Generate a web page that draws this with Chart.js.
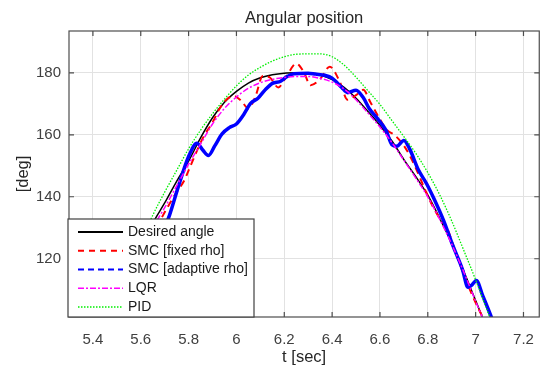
<!DOCTYPE html>
<html>
<head>
<meta charset="utf-8">
<script src="https://cdn.jsdelivr.net/npm/chart.js@4.4.1/dist/chart.umd.min.js"></script>
<style>
  html, body { margin: 0; padding: 0; background: #fff; }
</style>
</head>
<body>
<canvas id="angle" width="548" height="367"></canvas>
<script>
// time [sec] / angle [deg] samples for each controller
const desiredT = [5.45, 5.5, 5.55, 5.6, 5.65, 5.7, 5.75, 5.8, 5.85, 5.9, 5.95, 6.0, 6.05, 6.1, 6.15, 6.2, 6.25,
  6.3, 6.35, 6.4, 6.45, 6.5, 6.55, 6.6, 6.65, 6.7, 6.75, 6.8, 6.85, 6.9, 6.95, 7.0, 7.05];
const desiredDeg = [99, 107, 115.5, 124, 131.5, 138, 145, 151.5, 159, 165.5, 170.5, 174, 176.7, 178.4, 179.4, 179.9, 180,
  180, 179.3, 177.8, 175.3, 171.8, 167.5, 163, 158, 152, 146.5, 140.5, 133, 125, 116, 106.5, 97];

const smcFixedT = [5.45, 5.5, 5.55, 5.6, 5.65, 5.7, 5.75, 5.78, 5.8, 5.83, 5.86, 5.9, 5.93, 5.96, 5.99, 6.02, 6.05,
  6.08, 6.11, 6.14, 6.175, 6.21, 6.25, 6.28, 6.31, 6.35, 6.39, 6.43, 6.465, 6.5, 6.53, 6.56, 6.6, 6.63, 6.66,
  6.7, 6.73, 6.76, 6.79, 6.82, 6.85, 6.88, 6.915, 6.95, 6.99, 7.03, 7.07];
const smcFixedDeg = [95, 103, 111, 119, 127.5, 135, 141.5, 145, 148.5, 154, 159, 164, 168.5, 171.5, 172.5, 171, 168.5,
  172.5, 179, 178.5, 175.3, 179, 183, 180.5, 176, 178, 182, 177.5, 171.3, 172.8, 174.5, 170.5, 165, 161.5, 160,
  156.5, 152.5, 147.5, 142, 137, 133, 130, 122.4, 115, 107.5, 101, 94];

const smcAdaptT = [5.66, 5.7, 5.72, 5.76, 5.8, 5.835, 5.86, 5.883, 5.91, 5.94, 5.97, 6.0, 6.03, 6.06, 6.09, 6.12,
  6.15, 6.185, 6.21, 6.24, 6.3, 6.33, 6.37, 6.4, 6.44, 6.465, 6.5, 6.53, 6.555, 6.59, 6.625, 6.65, 6.67, 6.7,
  6.725, 6.76, 6.795, 6.825, 6.865, 6.905, 6.945, 6.968, 6.985, 7.003, 7.03, 7.065, 7.09];
const smcAdaptDeg = [120, 130, 134, 144, 153, 157.3, 155, 153.3, 156.5, 160.3, 162.3, 163.5, 166.5, 170.2, 171.8, 174.5,
  176.6, 177.3, 178.7, 179.7, 179.9, 179.6, 179.2, 178.3, 175.3, 173.6, 174.4, 172, 168.5, 165.2, 161.5, 156.8, 156.3, 158.2,
  155.3, 148.8, 144.2, 139.5, 132.5, 124.2, 116.5, 110.8, 111.6, 113, 108, 101.3, 96];

const lqrT = desiredT;
const lqrDeg = [97.5, 105.5, 113.5, 122, 130, 136.5, 143.5, 150.5, 157, 163.5, 168.5, 172.2, 175, 176.8, 177.9, 178.5, 178.8,
  178.8, 178.2, 177, 174.8, 171.3, 167, 162.5, 157.5, 151.8, 146, 140, 132.7, 124.7, 115.8, 106.3, 97];

const pidT = [5.45, 5.5, 5.55, 5.6, 5.65, 5.7, 5.75, 5.8, 5.85, 5.9, 5.95, 6.0, 6.05, 6.1, 6.15, 6.2, 6.25,
  6.3, 6.35, 6.4, 6.45, 6.5, 6.55, 6.6, 6.65, 6.7, 6.75, 6.8, 6.85, 6.9, 6.95, 7.0, 7.05, 7.1];
const pidDeg = [98, 106.5, 116, 125, 134, 141.5, 148.5, 155.5, 161.5, 166.8, 171.5, 175.8, 179.3, 181.8, 183.8, 185.2, 186,
  186.1, 186.1, 185.2, 182.5, 178.6, 174.2, 169.8, 164.6, 159.4, 154, 147.8, 140.6, 132.2, 122.8, 113.2, 103, 93];

const seriesLabels = ["Desired angle", "SMC [fixed rho]", "SMC [adaptive rho]", "LQR", "PID"];
const xTicks = [5.4, 5.6, 5.8, 6, 6.2, 6.4, 6.6, 6.8, 7, 7.2];
const yTicks = [120, 140, 160, 180];
const chartTitle = "Angular position";

const FONT = '"Liberation Sans", Arial, sans-serif';

const pts = (t, v) => t.map((x, i) => ({x: x, y: v[i]}));

// legend line samples (adaptive SMC is drawn dashed only in the key)
const legendDash = [[], [6, 5], [6, 4], [6, 2, 2, 2], [1.5, 1.5]];
const legendWidth = [2, 2, 2, 1.5, 1.5];

// axes box with inward ticks + title
const frameBox = {
  id: "frameBox",
  afterDatasetsDraw(chart) {
    const {ctx, chartArea: a, scales: {x, y}} = chart;
    ctx.save();
    ctx.strokeStyle = "#4d4d4d";
    ctx.lineWidth = 1.2;
    ctx.strokeRect(a.left, a.top, a.right - a.left, a.bottom - a.top);
    ctx.beginPath();
    xTicks.forEach(v => {
      const px = x.getPixelForValue(v);
      ctx.moveTo(px, a.bottom); ctx.lineTo(px, a.bottom - 5);
      ctx.moveTo(px, a.top); ctx.lineTo(px, a.top + 5);
    });
    yTicks.forEach(v => {
      const py = y.getPixelForValue(v);
      ctx.moveTo(a.left, py); ctx.lineTo(a.left + 5, py);
      ctx.moveTo(a.right, py); ctx.lineTo(a.right - 5, py);
    });
    ctx.stroke();
    ctx.fillStyle = "#262626";
    ctx.font = "16.5px " + FONT;
    ctx.textAlign = "center";
    ctx.textBaseline = "middle";
    ctx.fillText(chartTitle, (a.left + a.right) / 2, 18);
    ctx.restore();
  }
};

// legend box sitting in the lower left corner of the axes
const boxLegend = {
  id: "boxLegend",
  afterDraw(chart) {
    const {ctx, chartArea: a} = chart;
    const left = a.left - 1, top = a.bottom - 98, w = 186, h = 98;
    ctx.save();
    ctx.fillStyle = "#fff";
    ctx.fillRect(left, top, w, h);
    ctx.strokeStyle = "#404040";
    ctx.lineWidth = 1.2;
    ctx.strokeRect(left, top, w, h);
    ctx.font = "14px " + FONT;
    ctx.textBaseline = "middle";
    chart.data.datasets.forEach((ds, i) => {
      const yy = top + 13 + i * 18.75;
      ctx.beginPath();
      ctx.setLineDash(legendDash[i]);
      ctx.strokeStyle = ds.borderColor;
      ctx.lineWidth = legendWidth[i];
      ctx.moveTo(left + 10, yy);
      ctx.lineTo(left + 55, yy);
      ctx.stroke();
      ctx.setLineDash([]);
      ctx.fillStyle = "#1a1a1a";
      ctx.fillText(ds.label, left + 60, yy);
    });
    ctx.restore();
  }
};

new Chart(document.getElementById("angle"), {
  type: "line",
  data: {
    datasets: [
      {label: seriesLabels[0], data: pts(desiredT, desiredDeg), borderColor: "#000000", borderWidth: 1.5, order: 5},
      {label: seriesLabels[1], data: pts(smcFixedT, smcFixedDeg), borderColor: "#ff0000", borderWidth: 2,
        borderDash: [7, 5], order: 4},
      {label: seriesLabels[2], data: pts(smcAdaptT, smcAdaptDeg), borderColor: "#0000ff", borderWidth: 3.5, order: 3},
      {label: seriesLabels[3], data: pts(lqrT, lqrDeg), borderColor: "#ff00ff", borderWidth: 1.5,
        borderDash: [6, 2, 2, 2], order: 2},
      {label: seriesLabels[4], data: pts(pidT, pidDeg), borderColor: "#00ee00", borderWidth: 1.3,
        borderDash: [1.5, 1.5], order: 1},
    ]
  },
  options: {
    responsive: false,
    animation: false,
    events: [],
    layout: {padding: {top: 31, right: 3, left: 0, bottom: 0}},
    elements: {
      point: {radius: 0},
      line: {cubicInterpolationMode: "monotone", fill: false},
    },
    plugins: {
      legend: {display: false},
      tooltip: {enabled: false},
      title: {display: false},
    },
    scales: {
      x: {
        type: "linear",
        min: 5.3,
        max: 7.266,
        afterBuildTicks: s => { s.ticks = xTicks.map(v => ({value: v})); },
        afterFit: s => { s.height = 50; },
        border: {display: false},
        grid: {color: "#e2e2e2", lineWidth: 1, drawTicks: false},
        ticks: {
          padding: 14, color: "#404040", autoSkip: false, maxRotation: 0,
          font: {size: 15, family: FONT},
          callback: v => String(v),
        },
        title: {
          display: true, text: "t [sec]", color: "#262626",
          font: {size: 16.5, family: FONT, lineHeight: 1},
          padding: {top: 0, bottom: 1},
        },
      },
      y: {
        type: "linear",
        min: 101.2,
        max: 193.5,
        afterBuildTicks: s => { s.ticks = yTicks.map(v => ({value: v})); },
        afterFit: s => { s.width = 69; },
        border: {display: false},
        grid: {color: "#e2e2e2", lineWidth: 1, drawTicks: false},
        ticks: {
          padding: 8, color: "#404040",
          font: {size: 15, family: FONT},
          callback: v => String(v),
        },
        title: {
          display: true, text: "[deg]", color: "#262626",
          font: {size: 16.5, family: FONT, lineHeight: 1},
          padding: {top: 15, bottom: 0},
        },
      },
    },
  },
  plugins: [frameBox, boxLegend],
});
</script>
</body>
</html>
